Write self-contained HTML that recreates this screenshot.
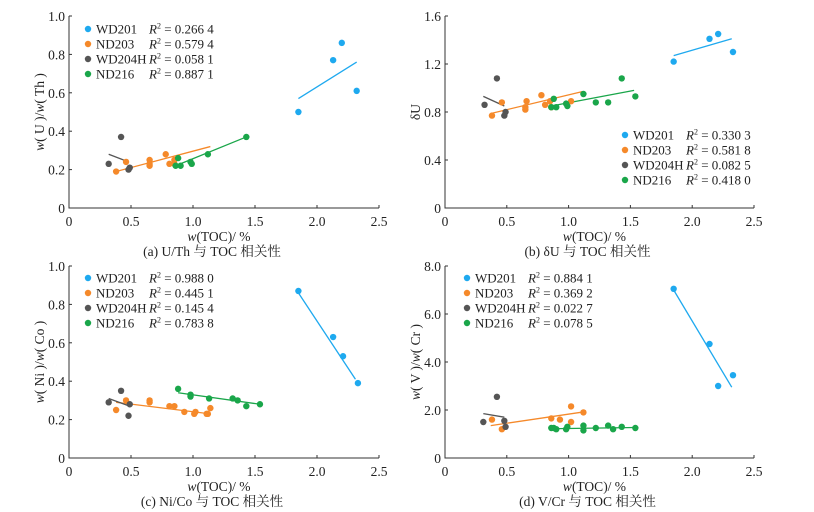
<!DOCTYPE html>
<html><head><meta charset="utf-8">
<style>
html,body{margin:0;padding:0;background:#fff;}
svg{display:block;font-family:"Liberation Serif","Noto Serif CJK SC",serif;}
</style></head>
<body>
<svg id="chart" width="814" height="512" viewBox="0 0 814 512"></svg>
<script>
const seriesNames = ["WD201","ND203","WD204H","ND216"];
const seriesColors = ["#1ea9ef","#f5892a","#555555","#1aa64a"];
const xTicks = [0,0.5,1.0,1.5,2.0,2.5];
const xTickLabels = ["0","0.5","1.0","1.5","2.0","2.5"];

// Panel a: U/Th
const aR2 = ["0.266 4","0.579 4","0.058 1","0.887 1"];
const aTicks = [0,0.2,0.4,0.6,0.8,1.0];
const aTickLabels = ["0","0.2","0.4","0.6","0.8","1.0"];
const aWD201 = [[1.85,0.50],[2.13,0.77],[2.20,0.86],[2.32,0.61]];
const aND203 = [[0.38,0.19],[0.46,0.24],[0.65,0.22],[0.65,0.25],[0.65,0.23],[0.78,0.28],[0.81,0.23],[0.85,0.25],[0.85,0.23]];
const aWD204H = [[0.32,0.23],[0.42,0.37],[0.48,0.20],[0.49,0.21]];
const aND216 = [[0.86,0.22],[0.88,0.26],[0.90,0.22],[0.98,0.24],[0.99,0.23],[1.12,0.28],[1.43,0.37]];
const aLines = [[[1.85,0.57],[2.32,0.76]],[[0.38,0.19],[1.14,0.32]],[[0.32,0.28],[0.48,0.24]],[[0.86,0.22],[1.43,0.37]]];

// Panel b: δU
const bR2 = ["0.330 3","0.581 8","0.082 5","0.418 0"];
const bTicks = [0,0.4,0.8,1.2,1.6];
const bTickLabels = ["0","0.4","0.8","1.2","1.6"];
const bWD201 = [[1.85,1.22],[2.14,1.41],[2.21,1.45],[2.33,1.30]];
const bND203 = [[0.38,0.77],[0.46,0.88],[0.65,0.82],[0.65,0.84],[0.66,0.89],[0.78,0.94],[0.81,0.86],[0.85,0.89],[0.86,0.84],[1.02,0.89]];
const bWD204H = [[0.32,0.86],[0.42,1.08],[0.48,0.77],[0.49,0.80]];
const bND216 = [[0.86,0.84],[0.88,0.91],[0.90,0.84],[0.98,0.87],[0.99,0.85],[1.12,0.95],[1.22,0.88],[1.32,0.88],[1.43,1.08],[1.54,0.93]];
const bLines = [[[1.85,1.27],[2.32,1.41]],[[0.38,0.79],[1.11,0.97]],[[0.31,0.93],[0.48,0.85]],[[0.86,0.85],[1.53,0.98]]];

// Panel c: Ni/Co
const cR2 = ["0.988 0","0.445 1","0.145 4","0.783 8"];
const cTicks = [0,0.2,0.4,0.6,0.8,1.0];
const cTickLabels = ["0","0.2","0.4","0.6","0.8","1.0"];
const cWD201 = [[1.85,0.87],[2.13,0.63],[2.21,0.53],[2.33,0.39]];
const cND203 = [[0.38,0.25],[0.46,0.30],[0.65,0.29],[0.65,0.30],[0.81,0.27],[0.85,0.27],[0.93,0.24],[1.01,0.23],[1.02,0.24],[1.11,0.23],[1.12,0.23],[1.14,0.26]];
const cWD204H = [[0.32,0.29],[0.42,0.35],[0.48,0.22],[0.49,0.28]];
const cND216 = [[0.88,0.36],[0.98,0.33],[0.98,0.32],[1.13,0.31],[1.32,0.31],[1.36,0.30],[1.43,0.27],[1.54,0.28]];
const cLines = [[[1.85,0.86],[2.31,0.41]],[[0.38,0.29],[1.14,0.23]],[[0.32,0.31],[0.49,0.27]],[[0.88,0.34],[1.54,0.28]]];

// Panel d: V/Cr
const dR2 = ["0.884 1","0.369 2","0.022 7","0.078 5"];
const dTicks = [0,2,4,6,8];
const dTickLabels = ["0","2.0","4.0","6.0","8.0"];
const dWD201 = [[1.85,7.05],[2.14,4.75],[2.21,3.0],[2.33,3.45]];
const dND203 = [[0.38,1.6],[0.46,1.2],[0.86,1.65],[0.93,1.6],[1.02,2.15],[1.02,1.5],[1.12,1.9]];
const dWD204H = [[0.31,1.5],[0.42,2.55],[0.48,1.55],[0.49,1.3]];
const dND216 = [[0.86,1.25],[0.88,1.25],[0.90,1.2],[0.98,1.2],[0.99,1.3],[1.12,1.35],[1.12,1.15],[1.22,1.25],[1.32,1.35],[1.36,1.2],[1.43,1.3],[1.54,1.25]];
const dLines = [[[1.85,7.0],[2.32,2.95]],[[0.37,1.35],[1.12,1.92]],[[0.31,1.85],[0.48,1.7]],[[0.86,1.22],[1.54,1.27]]];

const NS = "http://www.w3.org/2000/svg";
const svg = document.getElementById("chart");
function mk(tag, attrs, parent, text){
  const e = document.createElementNS(NS, tag);
  for (const k in attrs) e.setAttribute(k, attrs[k]);
  if (text !== undefined) e.textContent = text;
  (parent || svg).appendChild(e);
  return e;
}

function panel(cfg){
  const g = mk("g", {});
  
  
  const x = v => cfg.x0 + (v - 0) / 2.5 * (cfg.x1 - cfg.x0);
  const y = v => cfg.y0 - v / cfg.ymax * (cfg.y0 - cfg.y1);
  const ax = mk("path", {d:`M${cfg.x0},${cfg.y1}V${cfg.y0}H${cfg.x1}`, fill:"none", stroke:"#333", "stroke-width":1}, g);
  
  
  xTicks.forEach((t,i)=>{
    mk("line",{x1:x(t),x2:x(t),y1:cfg.y0,y2:cfg.y0-3,stroke:"#333"},g);
    const tl = mk("text",{x:x(t),y:cfg.y0+18,"text-anchor":"middle","font-size":13.5,fill:"#222"},g,xTickLabels[i]);
    
    
  });
  cfg.yTicks.forEach((t,i)=>{
    mk("line",{x1:cfg.x0,x2:cfg.x0+3,y1:y(t),y2:y(t),stroke:"#333"},g);
    const tl = mk("text",{x:cfg.x0-4,y:y(t)+5,"text-anchor":"end","font-size":13.5,fill:"#222"},g,cfg.yLabels[i]);
    
    
  });
  const xt = mk("text",{x:(cfg.x0+cfg.x1)/2-5,y:cfg.y0+33,"text-anchor":"middle","font-size":13.5,fill:"#222"},g);
  xt.innerHTML = '<tspan font-style="italic">w</tspan>(TOC)/ %';
  
  
  const yt = mk("text",{x:0,y:0,"text-anchor":"middle","font-size":13.5,fill:"#222",transform:`translate(${cfg.x0-25},${(cfg.y0+cfg.y1)/2}) rotate(-90)`},g);
  yt.innerHTML = cfg.ytitle;
  
  
  const cap = mk("text",{x:(cfg.x0+cfg.x1)/2-12,y:cfg.y0+48,"text-anchor":"middle","font-size":13.5,fill:"#222"},g,cfg.caption);
  
  
  cfg.series.forEach((pts,si)=>{
    const ln = cfg.lines[si];
    const l = mk("line",{x1:x(ln[0][0]),y1:y(ln[0][1]),x2:x(ln[1][0]),y2:y(ln[1][1]),stroke:seriesColors[si],"stroke-width":1.3},g);
    
    
  });
  cfg.series.forEach((pts,si)=>{
    pts.forEach(p=>{
      const c = mk("circle",{cx:x(p[0]),cy:y(p[1]),r:3.2,fill:seriesColors[si]},g);
      
      
    });
  });
  seriesNames.forEach((n,i)=>{
    const ly = cfg.ly + i*15;
    const lg = mk("g",{},g);
    
    
    mk("circle",{cx:cfg.lx,cy:ly,r:3.2,fill:seriesColors[i]},lg);
    mk("text",{x:cfg.lx+8,y:ly+4.5,"font-size":13,fill:"#222"},lg,n);
    const r = mk("text",{x:cfg.lx+61,y:ly+4.5,"font-size":13,fill:"#222"},lg);
    r.innerHTML = '<tspan font-style="italic">R</tspan><tspan font-size="8" dy="-5">2</tspan><tspan dy="5"> = ' + cfg.r2[i] + '</tspan>';
  });
}

panel({name:"panel-a-u-th",x0:69,x1:379,y0:208,y1:16,ymax:1.0,yTicks:aTicks,yLabels:aTickLabels,
  ytitle:'<tspan font-style="italic">w</tspan>( U )/<tspan font-style="italic">w</tspan>( Th )',caption:"(a) U/Th 与 TOC 相关性",
  series:[aWD201,aND203,aWD204H,aND216],lines:aLines,r2:aR2,lx:88,ly:29});
panel({name:"panel-b-delta-u",x0:445,x1:754,y0:208,y1:16,ymax:1.6,yTicks:bTicks,yLabels:bTickLabels,
  ytitle:'δU',caption:"(b) δU 与 TOC 相关性",
  series:[bWD201,bND203,bWD204H,bND216],lines:bLines,r2:bR2,lx:625,ly:135});
panel({name:"panel-c-ni-co",x0:69,x1:379,y0:458,y1:266,ymax:1.0,yTicks:cTicks,yLabels:cTickLabels,
  ytitle:'<tspan font-style="italic">w</tspan>( Ni )/<tspan font-style="italic">w</tspan>( Co )',caption:"(c) Ni/Co 与 TOC 相关性",
  series:[cWD201,cND203,cWD204H,cND216],lines:cLines,r2:cR2,lx:88,ly:278});
panel({name:"panel-d-v-cr",x0:445,x1:754,y0:458,y1:266,ymax:8,yTicks:dTicks,yLabels:dTickLabels,
  ytitle:'<tspan font-style="italic">w</tspan>( V )/<tspan font-style="italic">w</tspan>( Cr )',caption:"(d) V/Cr 与 TOC 相关性",
  series:[dWD201,dND203,dWD204H,dND216],lines:dLines,r2:dR2,lx:467,ly:278});
</script>
</body></html>
